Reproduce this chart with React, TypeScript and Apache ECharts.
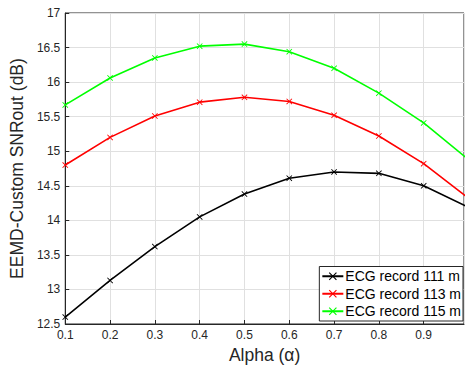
import React, { useEffect, useRef } from "react";
import * as echarts from "echarts";

const alphas = [0.1, 0.2, 0.3, 0.4, 0.5, 0.6, 0.7, 0.8, 0.9, 1.0];
const rec111 = [12.6, 13.13, 13.62, 14.05, 14.38, 14.61, 14.7, 14.68, 14.5, 14.19];
const rec113 = [14.8, 15.2, 15.51, 15.71, 15.78, 15.72, 15.52, 15.22, 14.82, 14.32];
const rec115 = [15.67, 16.06, 16.35, 16.52, 16.55, 16.44, 16.2, 15.84, 15.41, 14.88];
const seriesNames = ["ECG record 111 m", "ECG record 113 m", "ECG record 115 m"];
const seriesColors = ["#000000", "#ff0000", "#00ff00"];

const xMark = "path://M0,1 L1,0 L5,4 L9,0 L10,1 L6,5 L10,9 L9,10 L5,6 L1,10 L0,9 L4,5 Z";
const font = "Liberation Sans, Arial, Helvetica, sans-serif";
const textColor = "#262626";

export default function App() {
  const ref = useRef<HTMLDivElement>(null);
  useEffect(() => {
    if (!ref.current) return;
    const chart = echarts.init(ref.current, null, { renderer: "svg" });
    const datasets = [rec111, rec113, rec115];
    chart.setOption({
      animation: false,
      backgroundColor: "#ffffff",
      textStyle: { fontFamily: font },
      grid: {
        left: 63,
        right: 1,
        top: 13,
        bottom: 44,
        show: true,
        borderColor: textColor,
        borderWidth: 1,
        backgroundColor: "transparent",
      },
      legend: {
        orient: "vertical",
        right: 2,
        bottom: 48,
        backgroundColor: "#ffffff",
        borderColor: textColor,
        borderWidth: 1,
        borderRadius: 0,
        padding: [2, 2, 2, 2],
        itemGap: 2,
        itemWidth: 21,
        itemHeight: 10,
        textStyle: { fontSize: 14, color: "#000", fontFamily: font, lineHeight: 15.5, padding: [0, 0, 0, -3] },
        data: seriesNames,
      },
      xAxis: {
        type: "value",
        min: 0.1,
        max: 0.99,
        interval: 0.1,
        name: "Alpha (α)",
        nameLocation: "middle",
        nameGap: 22,
        nameTextStyle: { fontSize: 17.5, color: textColor, fontFamily: font },
        axisLine: { show: true, lineStyle: { color: textColor } },
        axisTick: { show: true, inside: true, length: 4, lineStyle: { color: textColor } },
        axisLabel: {
          fontSize: 12,
          color: textColor,
          margin: 5,
          showMaxLabel: false,
          formatter: (v: number) => v.toFixed(1),
        },
        splitLine: { show: true, lineStyle: { color: "#e0e0e0" } },
      },
      yAxis: {
        type: "value",
        min: 12.5,
        max: 17,
        interval: 0.5,
        name: "EEMD-Custom SNRout (dB)",
        nameLocation: "middle",
        nameGap: 31,
        nameRotate: 90,
        nameTextStyle: { fontSize: 17.5, color: textColor, fontFamily: font },
        axisLine: { show: true, lineStyle: { color: textColor } },
        axisTick: { show: true, inside: true, length: 4, lineStyle: { color: textColor } },
        axisLabel: {
          fontSize: 12,
          color: textColor,
          margin: 5,
          formatter: (v: number) => String(Math.round(v * 10) / 10),
        },
        splitLine: { show: true, lineStyle: { color: "#e0e0e0" } },
      },
      series: datasets.map((d, i) => ({
        name: seriesNames[i],
        type: "line",
        data: alphas.map((a, j) => [a, d[j]]),
        symbol: xMark,
        symbolSize: 6,
        showSymbol: true,
        clip: true,
        lineStyle: { color: seriesColors[i], width: 1.6 },
        itemStyle: { color: seriesColors[i] },
        z: 3 - i,
      })),
    });
    return () => chart.dispose();
  }, []);
  return (
    <div
      ref={ref}
      style={{ position: "fixed", left: 0, top: 0, width: 465, height: 369 }}
    />
  );
}
